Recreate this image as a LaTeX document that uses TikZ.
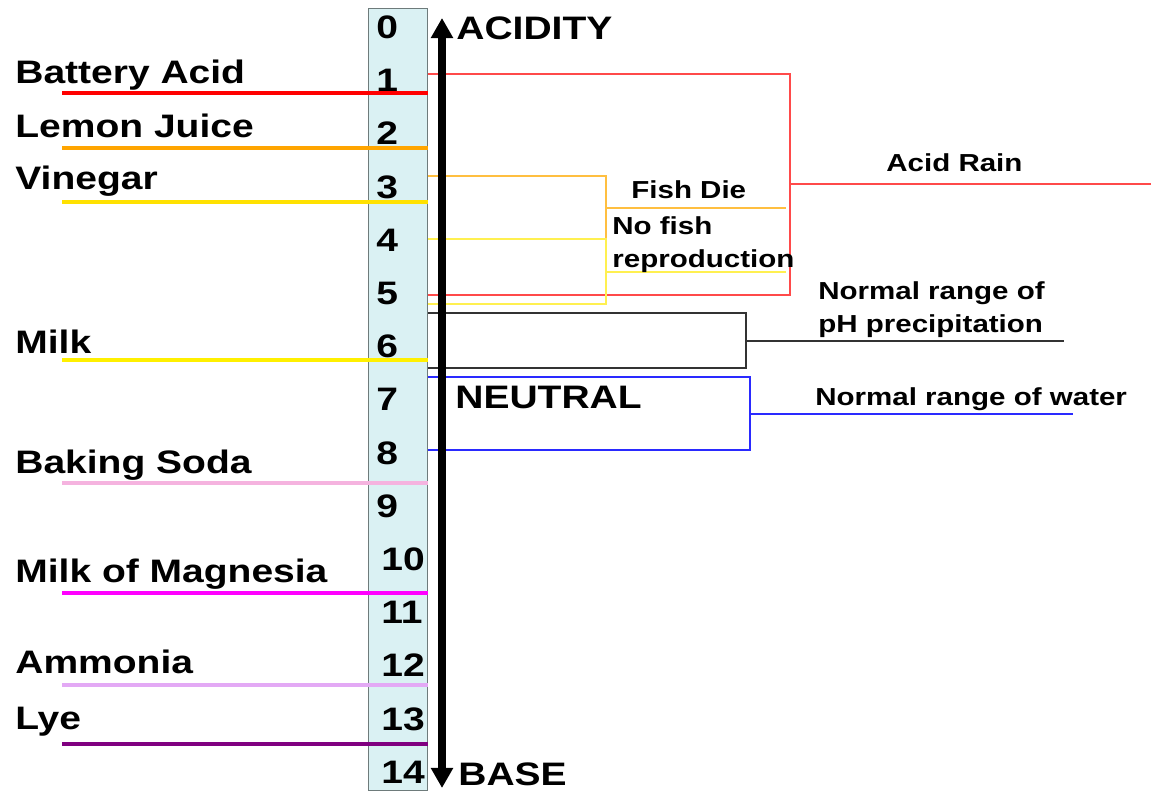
\documentclass[tikz,border=0pt]{standalone}
\usepackage{fontspec}
\setmainfont{Liberation Sans}[FakeStretch=1.2]
\usetikzlibrary{arrows.meta,positioning}
\definecolor{colfill}{HTML}{DAF1F3}
\definecolor{colframe}{HTML}{6E7B7B}
\definecolor{batteryred}{HTML}{FF0000}
\definecolor{lemonorange}{HTML}{FFA500}
\definecolor{vinegaryellow}{HTML}{FFE100}
\definecolor{milkyellow}{HTML}{FFF000}
\definecolor{sodapink}{HTML}{F5B3DF}
\definecolor{magnesiapink}{HTML}{FF00FF}
\definecolor{ammoniaviolet}{HTML}{E3A9F5}
\definecolor{lyepurple}{HTML}{800080}
\definecolor{rainred}{HTML}{FF4A4A}
\definecolor{fishorange}{HTML}{FFBF40}
\definecolor{fishyellow}{HTML}{FFF050}
\definecolor{precipgray}{HTML}{333333}
\definecolor{waterblue}{HTML}{2A2AFF}
\tikzset{
  phbig/.style={font=\bfseries\fontsize{18.5}{22}\selectfont,inner sep=0pt},
  phsmall/.style={font=\bfseries\fontsize{14}{18.8}\selectfont,inner sep=0pt},
  colbox/.style={draw=colframe,fill=colfill,line width=0.8pt,inner sep=0pt},
  scaleline/.style={line width=2.3pt},
  bracketline/.style={line width=0.8pt},
  phaxis/.style={black,line width=4pt,{Triangle[length=11.4pt,width=12pt]}-{Triangle[length=11.4pt,width=12pt]}}
}
\begin{document}
\begin{tikzpicture}[x=0.02cm,y=-0.02cm]
\useasboundingbox (0,0) rectangle (1151,793);
% the pH column
\node[colbox,anchor=north west,minimum width=1.18cm,minimum height=15.64cm] (phcol) at (368,8) {};
\foreach \i in {0,...,14}{
  \pgfmathsetmacro\yy{38.5+53.2*\i}
  \ifnum\i<10 \def\xx{376}\else\def\xx{381}\fi
  \node[phbig,anchor=base west] (num\i) at (\xx,\yy) {\i};
}
% substances on the left
\foreach \nm/\txt/\col/\ty/\ly in {battery/Battery Acid/batteryred/83.5/93,
    lemon/Lemon Juice/lemonorange/137.5/148,
    vinegar/Vinegar/vinegaryellow/189.5/202,
    milk/Milk/milkyellow/353.5/360,
    soda/Baking Soda/sodapink/473.5/483,
    magnesia/Milk of Magnesia/magnesiapink/582.5/593,
    ammonia/Ammonia/ammoniaviolet/673.5/685,
    lye/Lye/lyepurple/729.5/744}{
  \node[phbig,anchor=base west] (\nm) at (15,\ty) {\txt};
  \coordinate (\nm-s) at (62,\ly);
  \coordinate (\nm-e) at (428,\ly);
  \draw[scaleline,\col] (\nm-s) -- (\nm-e);
}
% acid rain
\coordinate (rainA) at (428,74);
\coordinate (rainB) at (428,295);
\coordinate (rainX) at (790,184);
\coordinate (rainEnd) at (1151,184);
\draw[bracketline,rainred] (rainA) -- (rainA -| rainX) -- (rainB -| rainX) -- (rainB);
\draw[bracketline,rainred] (rainX) -- (rainEnd);
\node[phsmall,anchor=base west] (rain) at (886,172) {Acid Rain};
% fish die
\coordinate (dieA) at (428,176);
\coordinate (dieB) at (428,239);
\coordinate (dieX) at (606,208);
\coordinate (dieEnd) at (786,208);
\draw[bracketline,fishorange] (dieA) -- (dieA -| dieX) -- (dieB -| dieX) -- (dieB);
\draw[bracketline,fishorange] (dieX) -- (dieEnd);
\node[phsmall,anchor=base west] (die) at (631,199) {Fish Die};
% no reproduction
\coordinate (reproA) at (428,239);
\coordinate (reproB) at (428,304);
\coordinate (reproX) at (606,272);
\coordinate (reproEnd) at (786,272);
\draw[bracketline,fishyellow] (reproA) -- (reproA -| reproX) -- (reproB -| reproX) -- (reproB);
\draw[bracketline,fishyellow] (reproX) -- (reproEnd);
\node[phsmall,anchor=base west,align=left] (repro) at (612,268) {No fish\\reproduction};
% precipitation
\coordinate (precA) at (428,313);
\coordinate (precB) at (428,368);
\coordinate (precX) at (746,341);
\coordinate (precEnd) at (1064,341);
\draw[bracketline,precipgray] (precA) -- (precA -| precX) -- (precB -| precX) -- (precB);
\draw[bracketline,precipgray] (precX) -- (precEnd);
\node[phsmall,anchor=base west,align=left] (prec) at (818,333) {Normal range of\\pH precipitation};
% water
\coordinate (watA) at (428,377);
\coordinate (watB) at (428,450);
\coordinate (watX) at (750,414);
\coordinate (watEnd) at (1073,414);
\draw[bracketline,waterblue] (watA) -- (watA -| watX) -- (watB -| watX) -- (watB);
\draw[bracketline,waterblue] (watX) -- (watEnd);
\node[phsmall,anchor=base west] (water) at (815,405) {Normal range of water};
% the axis
\coordinate (acidTip) at (442,18);
\coordinate (baseTip) at (442,788);
\draw[phaxis] (baseTip) -- (acidTip);
\node[phbig,anchor=base west] (acidity) at (456,40) {ACIDITY};
\node[phbig,anchor=base west] (neutral) at (455,408) {NEUTRAL};
\node[phbig,anchor=base west] (base) at (458,785) {BASE};
\end{tikzpicture}
\end{document}
